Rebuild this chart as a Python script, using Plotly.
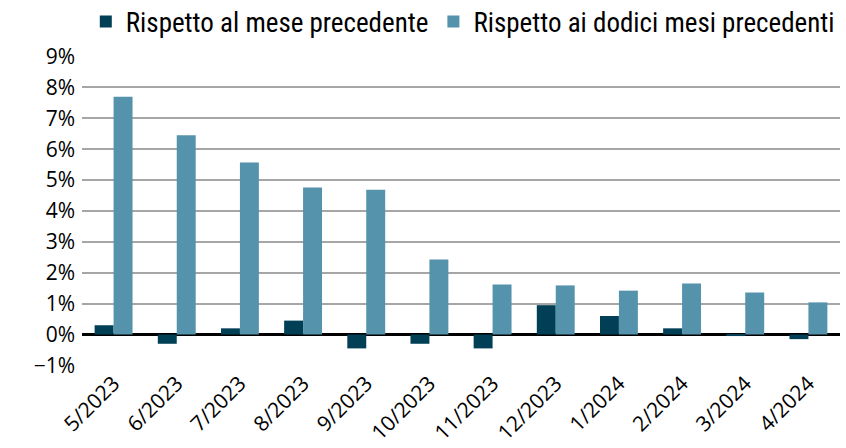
import plotly.graph_objects as go

categories = ["5/2023", "6/2023", "7/2023", "8/2023", "9/2023", "10/2023",
              "11/2023", "12/2023", "1/2024", "2/2024", "3/2024", "4/2024"]
mese = [0.30, -0.30, 0.20, 0.45, -0.45, -0.30, -0.45, 0.95, 0.60, 0.20, -0.05, -0.15]
dodici = [7.70, 6.45, 5.57, 4.76, 4.69, 2.43, 1.62, 1.59, 1.42, 1.65, 1.36, 1.04]
tick_vals = [-1, 0, 1, 2, 3, 4, 5, 6, 7, 8, 9]
tick_text = ["\u22121%"] + [f"{v}%" for v in tick_vals[1:]]

fig = go.Figure()
fig.add_trace(go.Bar(x=categories, y=mese, name="Rispetto al mese precedente",
                     marker=dict(color="#003F56", line=dict(width=0))))
fig.add_trace(go.Bar(x=categories, y=dodici, name="Rispetto ai dodici mesi precedenti",
                     marker=dict(color="#5592AB", line=dict(width=0))))

fig.update_layout(
    template="none",
    width=846, height=448,
    margin=dict(l=82, r=6, t=56, b=82, autoexpand=False),
    paper_bgcolor="white", plot_bgcolor="white",
    barmode="group", bargap=0.4, bargroupgap=0,
    font=dict(family="Open Sans, sans-serif", size=20, color="#000000"),
    legend=dict(orientation="h", x=0.005, xanchor="left", y=0.951, yanchor="middle",
                yref="container",
                font=dict(family="Liberation Sans Narrow, Roboto Condensed, sans-serif", size=27),
                itemsizing="constant", traceorder="normal", itemwidth=30),
    xaxis=dict(tickangle=-45, showgrid=False, showline=False, ticks="",
               automargin=False, tickfont=dict(size=21)),
    yaxis=dict(range=[-1.02, 9.02], tickvals=tick_vals, ticktext=tick_text,
               showgrid=True, gridcolor="#A6A6A6", gridwidth=2,
               zeroline=True, zerolinecolor="#000000", zerolinewidth=3,
               showline=False, ticks="", automargin=False,
               ticklabelstandoff=6, tickfont=dict(size=21)),
)
fig.write_html("out.html", config={"displayModeBar": False},
               post_script="document.body.style.margin='0px';document.body.style.overflow='hidden';")
